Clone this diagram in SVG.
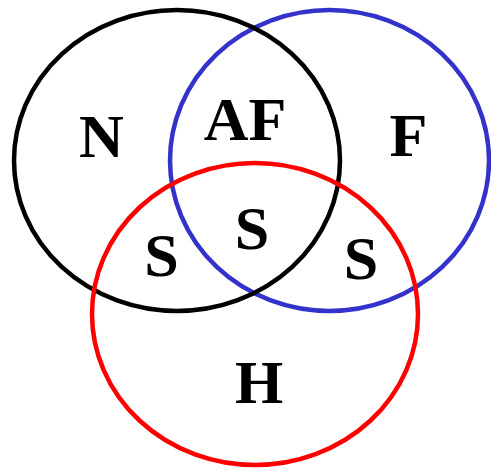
<svg xmlns="http://www.w3.org/2000/svg" width="491" height="471" viewBox="0 0 491 471">
<style>
.set{fill:none;stroke-width:4.5}
.lbl{font-family:"Liberation Serif","Times New Roman",serif;font-weight:bold;font-size:62px;fill:#000;text-anchor:middle}
</style>
<rect width="491" height="471" fill="#fff"/>
<g id="set-F"><ellipse class="set" cx="329.5" cy="160.5" rx="159.5" ry="150.5" stroke="#3333cc"/></g>
<g id="set-N"><ellipse class="set" cx="177" cy="160.5" rx="163" ry="150.5" stroke="#000"/></g>
<g id="set-H"><ellipse class="set" cx="255" cy="314" rx="163" ry="151" stroke="#ff0000"/></g>
<g id="labels">
<text class="lbl" x="101.5" y="157">N</text>
<text class="lbl" x="245" y="140">AF</text>
<text class="lbl" x="408.5" y="156">F</text>
<text class="lbl" x="252" y="249">S</text>
<text class="lbl" x="161.5" y="276">S</text>
<text class="lbl" x="361" y="279">S</text>
<text class="lbl" x="259" y="403">H</text>
</g>
</svg>
